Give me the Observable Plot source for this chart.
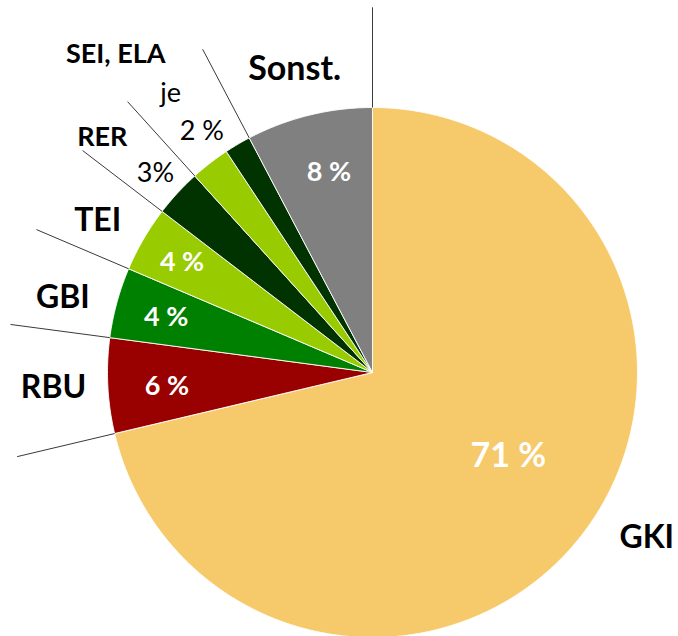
<!DOCTYPE html>
<html>
<head>
<meta charset="utf-8">
<script src="https://cdn.jsdelivr.net/npm/d3@7"></script>
<script src="https://cdn.jsdelivr.net/npm/@observablehq/plot@0.6"></script>
<style>
  html, body { margin: 0; padding: 0; background: #fff; }
  #chart svg { display: block; }
</style>
</head>
<body>
<div id="chart"></div>
<script>
// ---- data ----
const slices = ["GKI", "RBU", "GBI", "TEI", "RER", "SEI", "ELA", "Sonst."];
const shares = [71.3, 5.8, 4.3, 4.0, 2.9, 2.4, 1.6, 7.7];
const sliceColors = ["#F6CA6B", "#990000", "#008000", "#99CC00", "#003300", "#99CC00", "#003300", "#808080"];
// slice boundaries that get a leader line (start of slice)
const leaderAt = ["GKI", "RBU", "GBI", "TEI", "RER", "SEI", "Sonst."];

// label texts and which slice range they belong to
const labelTexts = ["71 %", "GKI", "6 %", "RBU", "4 %", "GBI", "4 %", "TEI", "3%", "RER", "2 %", "je", "SEI, ELA", "8 %", "Sonst."];
const labelFrom  = ["GKI", "GKI", "RBU", "RBU", "GBI", "GBI", "TEI", "TEI", "RER", "RER", "SEI", "SEI", "SEI", "Sonst.", "Sonst."];
const labelTo    = ["GKI", "GKI", "RBU", "RBU", "GBI", "GBI", "TEI", "TEI", "RER", "RER", "ELA", "ELA", "ELA", "Sonst.", "Sonst."];

// ---- placement / style config ----
const labelRadius = [0.603, 1.208, 0.777, 1.205, 0.806, 1.202, 0.831, 1.185, 1.111, 1.351, 1.114, 1.299, 1.542, 0.772, 1.181];
const labelShift  = [-6.6, -7.3, -0.9, 0.1, -0.4, -1.7, -0.1, -1.3, -0.15, -1.65, -0.4, -1.0, -4.0, 1.55, -0.55];
const labelSize   = [34, 32, 27, 32, 27, 32, 27, 32, 27, 27, 27, 27, 27, 27, 34];
const labelWeight = ["bold", "bold", "bold", "bold", "bold", "bold", "bold", "bold", "normal", "bold", "normal", "normal", "bold", "bold", "bold"];
const labelFill   = ["white", "#000", "white", "#000", "white", "#000", "white", "#000", "#000", "#000", "#000", "#000", "#000", "white", "#000"];

const W = 678, H = 636, CX = 372, CY = 372, R = 265;
const leaderOuter = 1.378;

// ---- geometry from data ----
const total = d3.sum(shares);
let acc = 0;
const arcs = slices.map((name, i) => {
  const a0 = acc / total * 360;
  acc += shares[i];
  const a1 = acc / total * 360;
  return {name, a0, a1, color: sliceColors[i]};
});
const byName = new Map(arcs.map(a => [a.name, a]));
const rad = deg => deg * Math.PI / 180;
const px = (deg, r) => r * Math.sin(rad(deg));
const py = (deg, r) => -r * Math.cos(rad(deg));

const polyPoints = [];
for (const a of arcs) {
  polyPoints.push({name: a.name, x: 0, y: 0});
  const n = Math.max(2, Math.ceil((a.a1 - a.a0) / 0.5));
  for (let k = 0; k <= n; k++) {
    const t = a.a0 + (a.a1 - a.a0) * k / n;
    polyPoints.push({name: a.name, x: px(t, 1), y: py(t, 1)});
  }
  polyPoints.push({name: a.name, x: 0, y: 0});
}

const leaders = leaderAt.map(n => {
  const a = byName.get(n).a0;
  return {x1: px(a, 1), y1: py(a, 1), x2: px(a, leaderOuter), y2: py(a, leaderOuter)};
});

const labels = labelTexts.map((text, i) => {
  const mid = (byName.get(labelFrom[i]).a0 + byName.get(labelTo[i]).a1) / 2 + labelShift[i];
  return {
    text, x: px(mid, labelRadius[i]), y: py(mid, labelRadius[i]),
    size: labelSize[i], weight: labelWeight[i], fill: labelFill[i]
  };
});

const textMarks = labels.map(l => Plot.text([l], {
  x: "x", y: "y", text: "text",
  fill: l.fill, fontSize: l.size, fontWeight: l.weight,
  fontFamily: "Lato, 'Open Sans', sans-serif"
}));

const chart = Plot.plot({
  width: W, height: H,
  margin: 0,
  style: {background: "white", overflow: "hidden"},
  x: {domain: [-CX / R, (W - CX) / R], range: [0, W], axis: null},
  y: {domain: [-CY / R, (H - CY) / R], range: [0, H], axis: null},
  color: {domain: slices, range: sliceColors},
  marks: [
    Plot.line(polyPoints, {
      x: "x", y: "y", z: "name", fill: "name",
      stroke: "white", strokeWidth: 1, strokeOpacity: 0.9, curve: "linear"
    }),
    Plot.link(leaders, {x1: "x1", y1: "y1", x2: "x2", y2: "y2", stroke: "#3a3a3a", strokeWidth: 1}),
    ...textMarks
  ]
});

document.getElementById("chart").appendChild(chart);
</script>
</body>
</html>
